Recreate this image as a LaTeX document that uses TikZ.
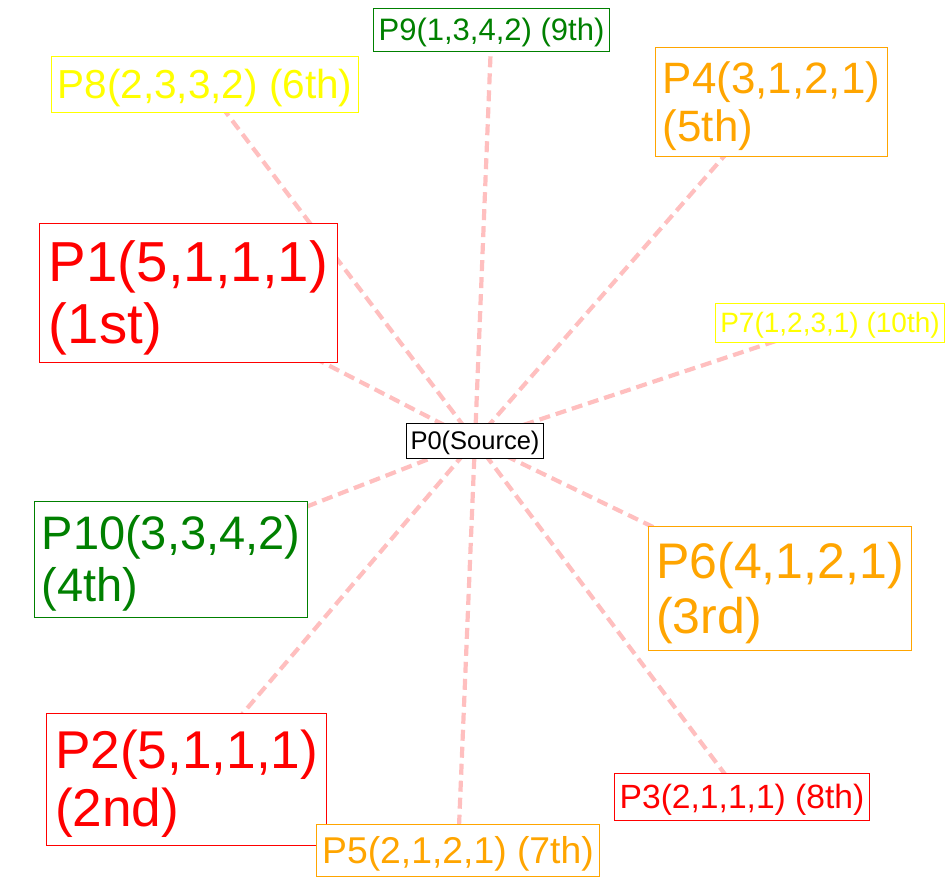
\documentclass[tikz,border=0pt]{standalone}
\usepackage{fontspec}
\setmainfont{Liberation Sans}
\usetikzlibrary{backgrounds}
\definecolor{mplgreen}{RGB}{0,128,0}
\definecolor{mplorange}{RGB}{255,165,0}
\definecolor{mplyellow}{RGB}{255,255,0}
\definecolor{edgepink}{RGB}{255,191,191}
\newcommand\topst{\rule{0pt}{0.905em}}
\newcommand\botst{\rule[-0.212em]{0pt}{0.212em}}
\begin{document}
\begin{tikzpicture}[x=1pt,y=-1pt,
  pbox/.style n args={3}{rectangle,draw=#1,text=#1,fill=white,line width=1pt,
    font=\fontsize{#2}{#3}\selectfont,align=left,
    inner xsep=#2*0.16pt,inner ysep=#2*0.13pt},
  link/.style={draw=edgepink,line width=4.2pt,dash pattern=on 11pt off 6pt}]
\useasboundingbox (0,0) rectangle (950,882);

\node[pbox={black}{25.5}{28}] (p0) at (475,441) {\topst P0(Source)\botst};
\node[pbox={mplgreen}{31}{34}] (p9) at (491.5,30) {\topst P9(1,3,4,2) (9th)\botst};
\node[pbox={mplyellow}{40.5}{44}] (p8) at (205,84.7) {\topst P8(2,3,3,2) (6th)\botst};
\node[pbox={mplorange}{43.9}{48}] (p4) at (771.5,102) {\topst P4(3,1,2,1)\\(5th)\botst};
\node[pbox={red}{56.4}{62}] (p1) at (188.5,293) {\topst P1(5,1,1,1)\\(1st)\botst};
\node[pbox={mplyellow}{28}{31}] (p7) at (830,323) {\topst P7(1,2,3,1) (10th)\botst};
\node[pbox={mplgreen}{47}{51.7}] (p10) at (171,559.5) {\topst P10(3,3,4,2)\\(4th)\botst};
\node[pbox={mplorange}{50}{55}] (p6) at (780,588.3) {\topst P6(4,1,2,1)\\(3rd)\botst};
\node[pbox={red}{53.2}{58.5}] (p2) at (186.7,779.2) {\topst P2(5,1,1,1)\\(2nd)\botst};
\node[pbox={red}{33.6}{37}] (p3) at (742,797) {\topst P3(2,1,1,1) (8th)\botst};
\node[pbox={mplorange}{37.3}{41}] (p5) at (458,850.5) {\topst P5(2,1,2,1) (7th)\botst};

\begin{pgfonlayer}{background}
\foreach \n in {p1,p2,p3,p4,p5,p6,p7,p8,p9,p10}
  \draw[link] (p0.center) -- (\n.center);
\end{pgfonlayer}
\end{tikzpicture}
\end{document}
